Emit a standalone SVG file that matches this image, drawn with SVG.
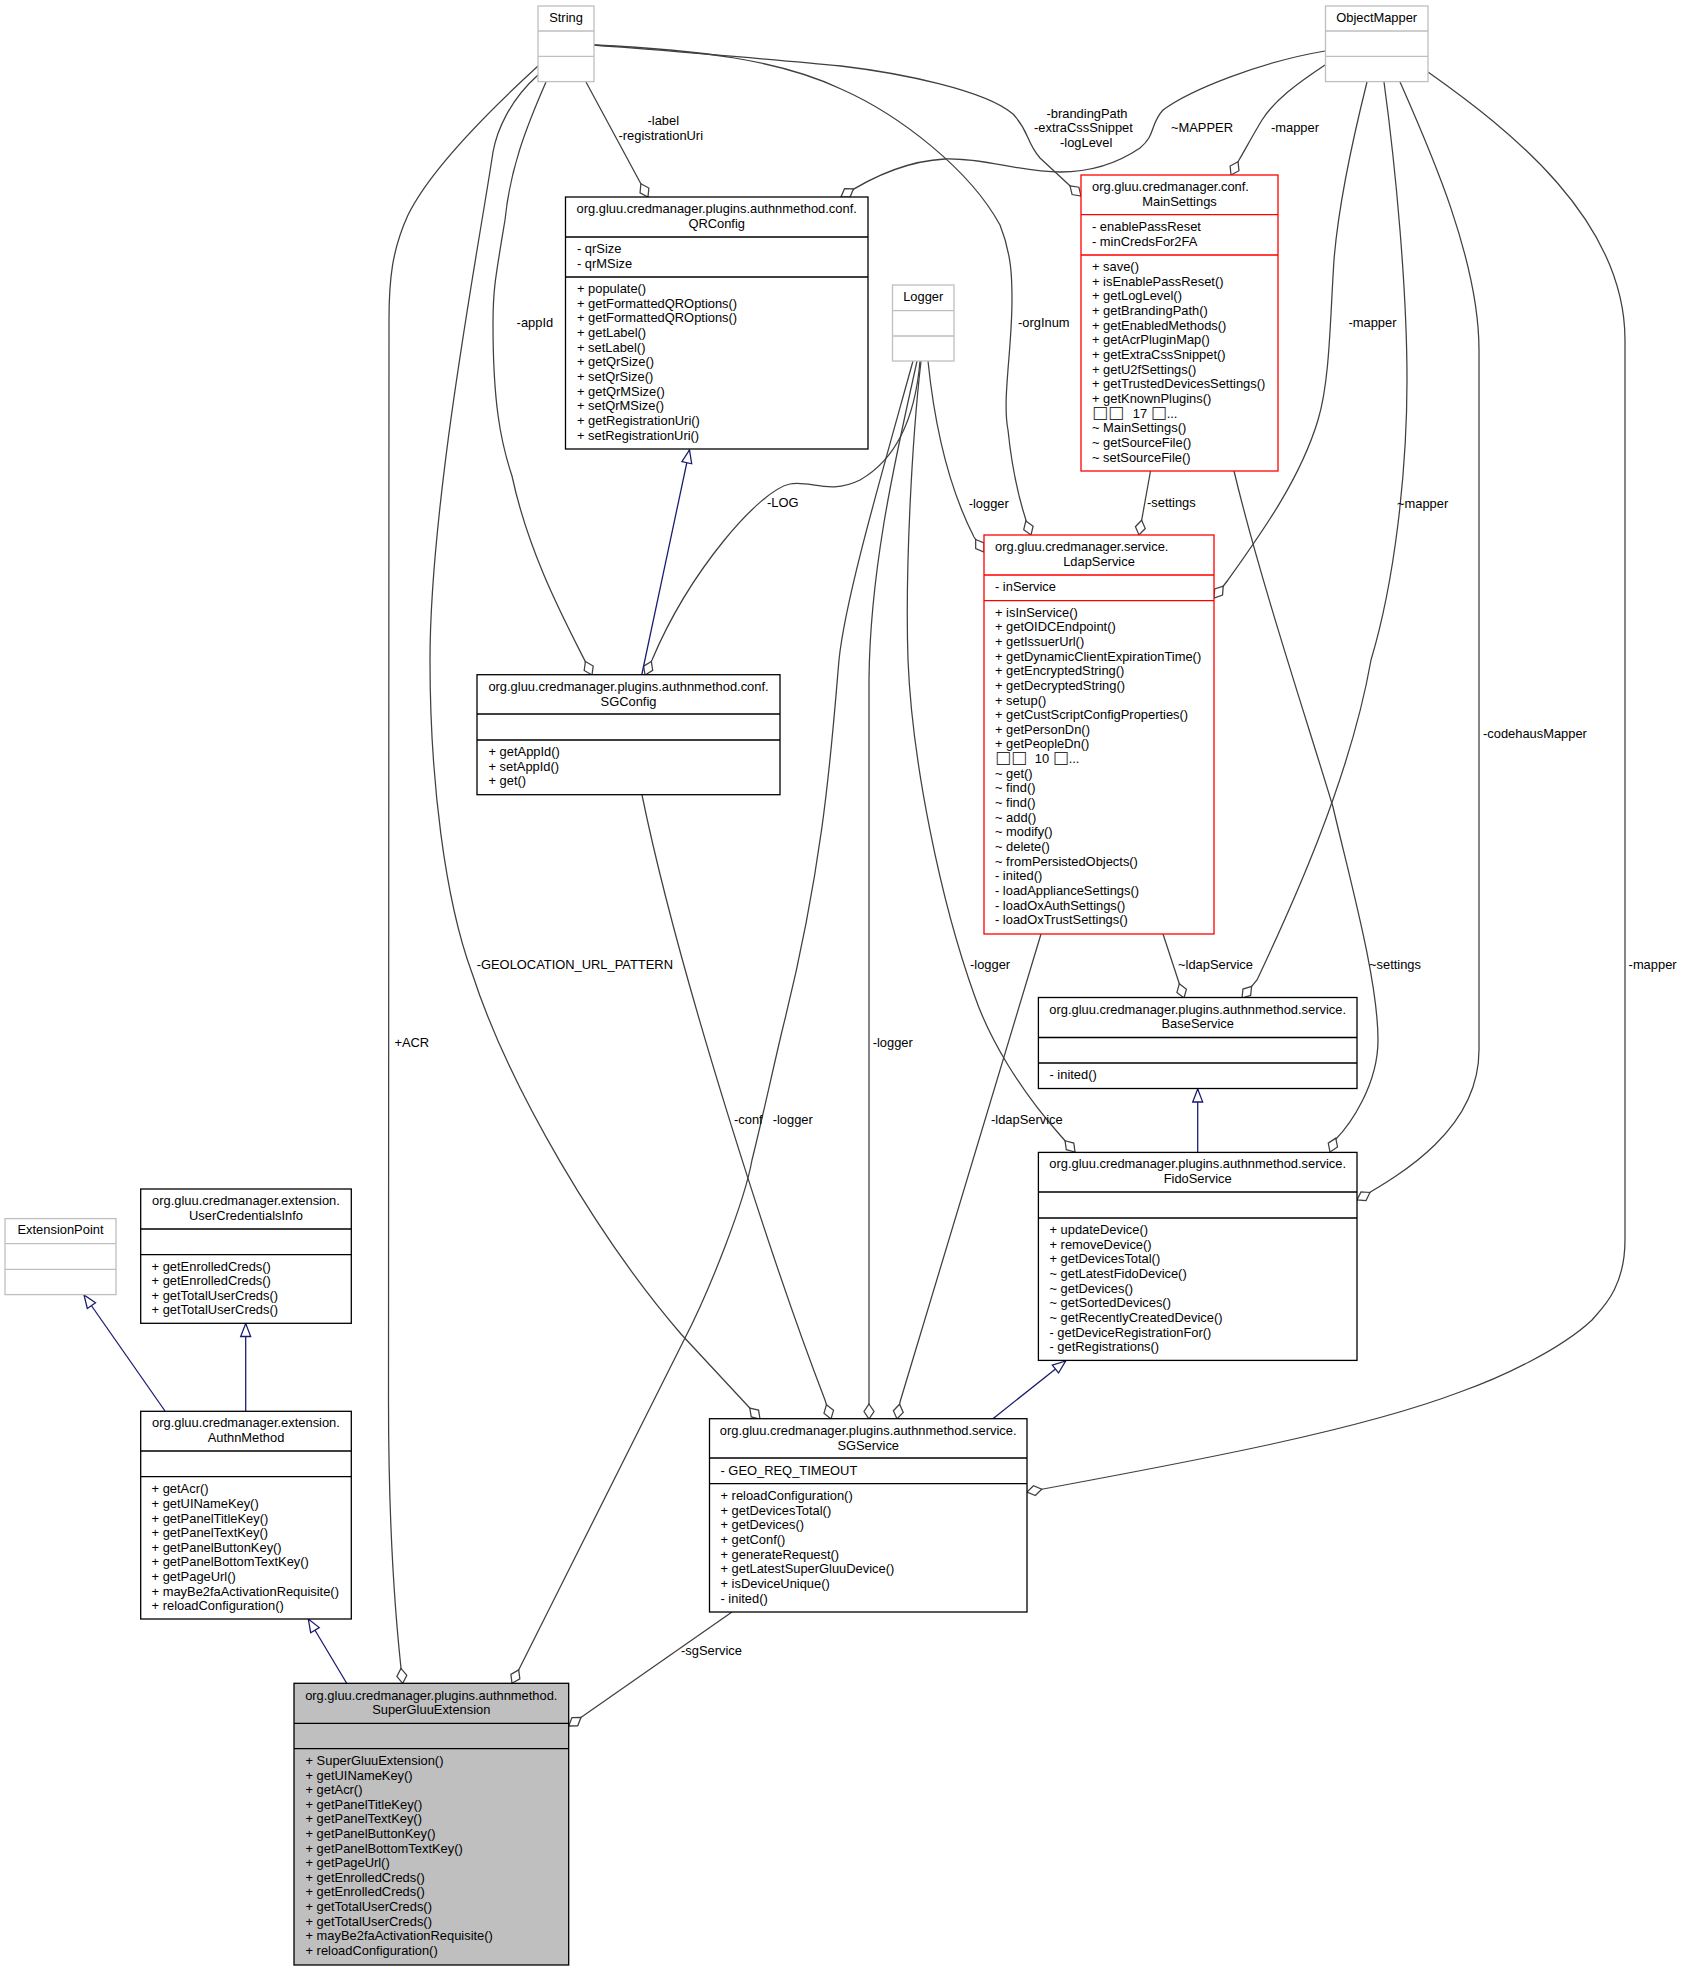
<svg xmlns="http://www.w3.org/2000/svg" width="1682" height="1971" viewBox="0 0 1682 1971">
<style>
text{font-family:"Liberation Sans",Arial,sans-serif;font-size:12.9px;fill:#000}
.c{text-anchor:middle}
.q{font-family:"DejaVu Sans",sans-serif;font-size:17px;fill:#333}
.box{fill:#fff;stroke:#000;stroke-width:1.3}
.red{fill:#fff;stroke:#f00;stroke-width:1.3}
.gry{fill:#fff;stroke:#bfbfbf;stroke-width:1.3}
.cur{fill:#bfbfbf;stroke:#000;stroke-width:1.3}
.e{fill:none;stroke:#404040;stroke-width:1.26;marker-end:url(#dia)}
.i{fill:none;stroke:#191970;stroke-width:1.26;marker-end:url(#tri)}
</style>
<defs>
<marker id="dia" markerUnits="userSpaceOnUse" markerWidth="18" markerHeight="12" refX="16" refY="6" orient="auto" overflow="visible"><polygon points="1,6 8.5,1 16,6 8.5,11" fill="#fff" stroke="#404040" stroke-width="1.26"/></marker>
<marker id="tri" markerUnits="userSpaceOnUse" markerWidth="15" markerHeight="12" refX="14" refY="6" orient="auto" overflow="visible"><polygon points="1,1 14,6 1,11" fill="#fff" stroke="#191970" stroke-width="1.26"/></marker>
</defs>
<rect width="1682" height="1971" fill="#fff"/>
<g id="connectors">
<path class="e" d="M538,66 C490,110 430,170 408,215 C392,250 389,280 389,320 L388.5,1400 C388.5,1500 393,1600 402.7,1683.3"/>
<path class="e" d="M538,75 C510,100 497,130 493,152 C480,240 430,500 430,660 C430,780 445,900 472,973 C510,1090 600,1240 681,1334 L760,1419"/>
<path class="e" d="M546,82 C525,130 510,170 505,220 C495,280 493,290 493,324 C493,400 500,440 512,476 C530,560 570,630 592,675"/>
<path class="e" d="M586,82 L648,197"/>
<path class="e" d="M594,45 C680,52 780,60 841,66 C900,73 985,90 1013,114 C1030,132 1025,140 1040,158 L1081,196"/>
<path class="e" d="M594,45 C700,50 780,60 841,89 C900,115 970,170 1000,225 C1012,255 1012,280 1012,300 C1012,350 1002,400 1008,430 C1012,470 1020,505 1031,535"/>
<path class="e" d="M1325,51 C1260,62 1190,90 1163,110 C1150,124 1156,135 1140,148 C1115,165 1090,172 1060,172 C1020,172 985,158 945,159 C905,161 870,178 841,197"/>
<path class="e" d="M1325,65 C1295,85 1275,100 1262,120 C1250,140 1245,150 1239,160 L1231,175"/>
<path class="e" d="M1367,82 C1350,150 1338,210 1334,260 C1330,320 1330,380 1318,420 C1300,480 1260,535 1228,580 L1214,598"/>
<path class="e" d="M1384,82 C1396,170 1407,290 1407,380 C1407,470 1395,580 1371,660 C1350,780 1290,910 1257,980 L1242,998"/>
<path class="e" d="M1400,82 C1430,150 1479,260 1479,350 L1479,1050 C1479,1130 1400,1175 1357,1200"/>
<path class="e" d="M1428,72 C1510,130 1625,220 1625,340 L1625,1240 C1625,1290 1600,1310 1592,1320 C1560,1350 1500,1378 1460,1392 C1360,1430 1200,1460 1027,1492"/>
<path class="e" d="M913,361 C880,480 845,600 839,660 C832,740 825,860 783,1027 C775,1060 762,1120 752,1160 C745,1200 710,1290 684,1340 L512,1683.3"/>
<path class="e" d="M917,361 C900,440 870,560 869,680 L869,1419"/>
<path class="e" d="M921,361 C912,440 905,570 908,660 C912,760 940,900 975,997 C990,1040 1020,1090 1060,1135 L1075,1152"/>
<path class="e" d="M928,361 C935,430 950,490 974,537 L984,552"/>
<path class="e" d="M920,361 C915,420 895,460 860,480 C830,495 810,480 790,484 C760,490 690,570 652,660 L645,675"/>
<path class="e" d="M642,795 C680,980 775,1270 825,1400 L831,1419"/>
<path class="e" d="M1041,934 L900,1402 L897,1419"/>
<path class="e" d="M1150.5,471 L1139,535"/>
<path class="e" d="M1163,934 L1184,998"/>
<path class="e" d="M1234,471 C1260,580 1310,730 1333,807 C1350,880 1378,980 1378,1040 C1378,1085 1350,1125 1335,1140 L1330,1152"/>
<path class="e" d="M732,1612 L568.7,1726"/>
<path class="i" d="M1197.7,1152 L1197.7,1089"/>
<path class="i" d="M992.6,1419 L1065.6,1361"/>
<path class="i" d="M641.7,675 L689.5,450"/>
<path class="i" d="M346.7,1683.3 L308.3,1619"/>
<path class="i" d="M245.7,1411.3 L245.7,1323.5"/>
<path class="i" d="M165,1411 L84,1295"/>
<g id="labels">
<text x="516.6" y="327">-appId</text>
<text x="647.5" y="125">-label</text>
<text x="618.5" y="139.5">-registrationUri</text>
<text x="767" y="507">-LOG</text>
<text x="1046.5" y="117.5">-brandingPath</text>
<text x="1034" y="132">-extraCssSnippet</text>
<text x="1060" y="147">-logLevel</text>
<text x="1171" y="132">~MAPPER</text>
<text x="1271" y="132">-mapper</text>
<text x="1018" y="327">-orgInum</text>
<text x="1348.5" y="327">-mapper</text>
<text x="968.7" y="507.5">-logger</text>
<text x="1147" y="507">-settings</text>
<text x="1397" y="507.5">~mapper</text>
<text x="1483" y="738">-codehausMapper</text>
<text x="970" y="969">-logger</text>
<text x="1178" y="969">~ldapService</text>
<text x="1369" y="969">~settings</text>
<text x="1628.6" y="969">-mapper</text>
<text x="872.7" y="1047">-logger</text>
<text x="991" y="1124">-ldapService</text>
<text x="476.7" y="969">-GEOLOCATION_URL_PATTERN</text>
<text x="394.4" y="1047">+ACR</text>
<text x="734" y="1124">-conf</text>
<text x="772.7" y="1124">-logger</text>
<text x="681" y="1654.5">-sgService</text>
</g>
</g>
<g id="String">
<rect class="gry" x="538" y="6" width="56" height="75.6"/><path class="gry" d="M538,31H594M538,56.4H594"/>
<text class="c" x="566" y="22">String</text>
</g>
<g id="ObjectMapper">
<rect class="gry" x="1325.5" y="6" width="102.5" height="75.6"/><path class="gry" d="M1325.5,31H1428M1325.5,56.4H1428"/>
<text class="c" x="1376.7" y="22">ObjectMapper</text>
</g>
<g id="Logger">
<rect class="gry" x="892.5" y="285" width="61.5" height="76"/><path class="gry" d="M892.5,310.6H954M892.5,336H954"/>
<text class="c" x="923.2" y="301">Logger</text>
</g>
<g id="ExtensionPoint">
<rect class="gry" x="5" y="1218.6" width="111" height="76"/><path class="gry" d="M5,1243.7H116M5,1269.4H116"/>
<text class="c" x="60.5" y="1234">ExtensionPoint</text>
</g>
<g id="QRConfig">
<rect class="box" x="565.5" y="197" width="302.5" height="252"/><path class="box" d="M565.5,237H868M565.5,277H868"/>
<text class="c" x="716.7" y="213">org.gluu.credmanager.plugins.authnmethod.conf.</text>
<text class="c" x="716.7" y="228">QRConfig</text>
<text x="577" y="253">- qrSize</text>
<text x="577" y="268">- qrMSize</text>
<text x="577" y="293">+ populate()</text>
<text x="577" y="307.6">+ getFormattedQROptions()</text>
<text x="577" y="322.3">+ getFormattedQROptions()</text>
<text x="577" y="337">+ getLabel()</text>
<text x="577" y="351.6">+ setLabel()</text>
<text x="577" y="366.3">+ getQrSize()</text>
<text x="577" y="380.9">+ setQrSize()</text>
<text x="577" y="395.6">+ getQrMSize()</text>
<text x="577" y="410.2">+ setQrMSize()</text>
<text x="577" y="424.9">+ getRegistrationUri()</text>
<text x="577" y="439.5">+ setRegistrationUri()</text>
</g>
<g id="MainSettings">
<rect class="red" x="1081" y="175" width="197" height="296"/><path class="red" d="M1081,214.6H1278M1081,255H1278"/>
<text x="1092" y="191">org.gluu.credmanager.conf.</text>
<text class="c" x="1179.5" y="206">MainSettings</text>
<text x="1092" y="231">- enablePassReset</text>
<text x="1092" y="246">- minCredsFor2FA</text>
<text x="1092" y="271">+ save()</text>
<text x="1092" y="285.6">+ isEnablePassReset()</text>
<text x="1092" y="300.3">+ getLogLevel()</text>
<text x="1092" y="315">+ getBrandingPath()</text>
<text x="1092" y="329.6">+ getEnabledMethods()</text>
<text x="1092" y="344.3">+ getAcrPluginMap()</text>
<text x="1092" y="358.9">+ getExtraCssSnippet()</text>
<text x="1092" y="373.6">+ getU2fSettings()</text>
<text x="1092" y="388.2">+ getTrustedDevicesSettings()</text>
<text x="1092" y="402.9">+ getKnownPlugins()</text>
<text x="1092" y="418"><tspan class="q">□□</tspan><tspan dx="5"> 17 </tspan><tspan class="q">□</tspan>...</text>
<text x="1092" y="432.2">~ MainSettings()</text>
<text x="1092" y="446.8">~ getSourceFile()</text>
<text x="1092" y="461.5">~ setSourceFile()</text>
</g>
<g id="LdapService">
<rect class="red" x="984" y="535" width="230" height="399"/><path class="red" d="M984,575H1214M984,600.6H1214"/>
<text x="995" y="551">org.gluu.credmanager.service.</text>
<text class="c" x="1099" y="566">LdapService</text>
<text x="995" y="591">- inService</text>
<text x="995" y="616.6">+ isInService()</text>
<text x="995" y="631.2">+ getOIDCEndpoint()</text>
<text x="995" y="645.9">+ getIssuerUrl()</text>
<text x="995" y="660.5">+ getDynamicClientExpirationTime()</text>
<text x="995" y="675.2">+ getEncryptedString()</text>
<text x="995" y="689.8">+ getDecryptedString()</text>
<text x="995" y="704.5">+ setup()</text>
<text x="995" y="719.1">+ getCustScriptConfigProperties()</text>
<text x="995" y="733.8">+ getPersonDn()</text>
<text x="995" y="748.4">+ getPeopleDn()</text>
<text x="995" y="763.4"><tspan class="q">□□</tspan><tspan dx="4"> 10 </tspan><tspan class="q">□</tspan>...</text>
<text x="995" y="777.7">~ get()</text>
<text x="995" y="792.4">~ find()</text>
<text x="995" y="807">~ find()</text>
<text x="995" y="821.7">~ add()</text>
<text x="995" y="836.3">~ modify()</text>
<text x="995" y="851">~ delete()</text>
<text x="995" y="865.6">~ fromPersistedObjects()</text>
<text x="995" y="880.3">- inited()</text>
<text x="995" y="894.9">- loadApplianceSettings()</text>
<text x="995" y="909.6">- loadOxAuthSettings()</text>
<text x="995" y="924.2">- loadOxTrustSettings()</text>
</g>
<g id="SGConfig">
<rect class="box" x="477" y="674.7" width="303" height="120"/><path class="box" d="M477,714H780M477,740H780"/>
<text class="c" x="628.5" y="690.7">org.gluu.credmanager.plugins.authnmethod.conf.</text>
<text class="c" x="628.5" y="705.5">SGConfig</text>
<text x="488.5" y="756">+ getAppId()</text>
<text x="488.5" y="770.6">+ setAppId()</text>
<text x="488.5" y="785.3">+ get()</text>
</g>
<g id="BaseService">
<rect class="box" x="1038.4" y="997.5" width="318.6" height="91"/><path class="box" d="M1038.4,1037.5H1357M1038.4,1063H1357"/>
<text class="c" x="1197.7" y="1013.5">org.gluu.credmanager.plugins.authnmethod.service.</text>
<text class="c" x="1197.7" y="1028.3">BaseService</text>
<text x="1049.5" y="1079">- inited()</text>
</g>
<g id="FidoService">
<rect class="box" x="1038.4" y="1152.4" width="318.6" height="208"/><path class="box" d="M1038.4,1192H1357M1038.4,1218H1357"/>
<text class="c" x="1197.7" y="1168.4">org.gluu.credmanager.plugins.authnmethod.service.</text>
<text class="c" x="1197.7" y="1183">FidoService</text>
<text x="1049.5" y="1234">+ updateDevice()</text>
<text x="1049.5" y="1248.6">+ removeDevice()</text>
<text x="1049.5" y="1263.3">+ getDevicesTotal()</text>
<text x="1049.5" y="1278">~ getLatestFidoDevice()</text>
<text x="1049.5" y="1292.6">~ getDevices()</text>
<text x="1049.5" y="1307.3">~ getSortedDevices()</text>
<text x="1049.5" y="1321.9">~ getRecentlyCreatedDevice()</text>
<text x="1049.5" y="1336.6">- getDeviceRegistrationFor()</text>
<text x="1049.5" y="1351.2">- getRegistrations()</text>
</g>
<g id="SGService">
<rect class="box" x="709.5" y="1418.7" width="317.5" height="193.3"/><path class="box" d="M709.5,1458H1027M709.5,1483.7H1027"/>
<text class="c" x="868.2" y="1435">org.gluu.credmanager.plugins.authnmethod.service.</text>
<text class="c" x="868.2" y="1449.5">SGService</text>
<text x="720.5" y="1475">- GEO_REQ_TIMEOUT</text>
<text x="720.5" y="1500">+ reloadConfiguration()</text>
<text x="720.5" y="1514.6">+ getDevicesTotal()</text>
<text x="720.5" y="1529.3">+ getDevices()</text>
<text x="720.5" y="1544">+ getConf()</text>
<text x="720.5" y="1558.6">+ generateRequest()</text>
<text x="720.5" y="1573.3">+ getLatestSuperGluuDevice()</text>
<text x="720.5" y="1587.9">+ isDeviceUnique()</text>
<text x="720.5" y="1602.6">- inited()</text>
</g>
<g id="UserCredentialsInfo">
<rect class="box" x="140.7" y="1189" width="210.6" height="134.3"/><path class="box" d="M140.7,1229H351.3M140.7,1254.7H351.3"/>
<text class="c" x="246" y="1204.8">org.gluu.credmanager.extension.</text>
<text class="c" x="246" y="1219.5">UserCredentialsInfo</text>
<text x="151.6" y="1270.5">+ getEnrolledCreds()</text>
<text x="151.6" y="1285">+ getEnrolledCreds()</text>
<text x="151.6" y="1299.6">+ getTotalUserCreds()</text>
<text x="151.6" y="1314.3">+ getTotalUserCreds()</text>
</g>
<g id="AuthnMethod">
<rect class="box" x="140.7" y="1411.3" width="210.6" height="207.7"/><path class="box" d="M140.7,1451H351.3M140.7,1476.7H351.3"/>
<text class="c" x="246" y="1427.3">org.gluu.credmanager.extension.</text>
<text class="c" x="246" y="1442">AuthnMethod</text>
<text x="151.6" y="1493.3">+ getAcr()</text>
<text x="151.6" y="1507.9">+ getUINameKey()</text>
<text x="151.6" y="1522.5">+ getPanelTitleKey()</text>
<text x="151.6" y="1537.1">+ getPanelTextKey()</text>
<text x="151.6" y="1551.7">+ getPanelButtonKey()</text>
<text x="151.6" y="1566.3">+ getPanelBottomTextKey()</text>
<text x="151.6" y="1580.9">+ getPageUrl()</text>
<text x="151.6" y="1595.5">+ mayBe2faActivationRequisite()</text>
<text x="151.6" y="1610.1">+ reloadConfiguration()</text>
</g>
<g id="SuperGluuExtension">
<rect class="cur" x="294" y="1683.3" width="274.7" height="281.7"/><path class="cur" d="M294,1723.3H568.7M294,1748.7H568.7"/>
<text class="c" x="431.3" y="1699.5">org.gluu.credmanager.plugins.authnmethod.</text>
<text class="c" x="431.3" y="1714">SuperGluuExtension</text>
<text x="305.5" y="1765">+ SuperGluuExtension()</text>
<text x="305.5" y="1779.6">+ getUINameKey()</text>
<text x="305.5" y="1794.2">+ getAcr()</text>
<text x="305.5" y="1808.8">+ getPanelTitleKey()</text>
<text x="305.5" y="1823.4">+ getPanelTextKey()</text>
<text x="305.5" y="1838">+ getPanelButtonKey()</text>
<text x="305.5" y="1852.6">+ getPanelBottomTextKey()</text>
<text x="305.5" y="1867.2">+ getPageUrl()</text>
<text x="305.5" y="1881.8">+ getEnrolledCreds()</text>
<text x="305.5" y="1896.4">+ getEnrolledCreds()</text>
<text x="305.5" y="1911">+ getTotalUserCreds()</text>
<text x="305.5" y="1925.6">+ getTotalUserCreds()</text>
<text x="305.5" y="1940.2">+ mayBe2faActivationRequisite()</text>
<text x="305.5" y="1954.8">+ reloadConfiguration()</text>
</g>
</svg>
